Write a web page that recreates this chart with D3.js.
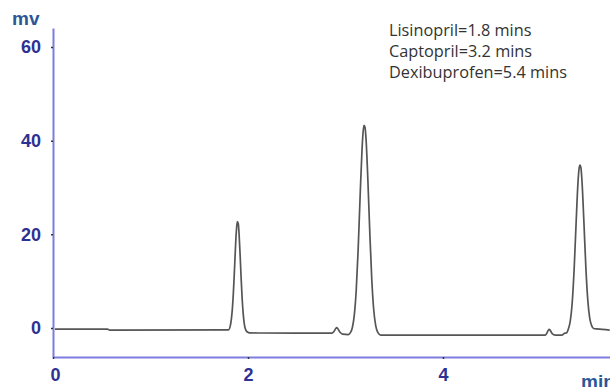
<!DOCTYPE html>
<html>
<head>
<meta charset="utf-8">
<script src="https://cdn.jsdelivr.net/npm/d3@7/dist/d3.min.js"></script>
<style>
html,body{margin:0;padding:0;background:#fff;}
svg{display:block;}
</style>
</head>
<body>
<svg id="chart" width="610" height="387"></svg>
<script>
// ---- data ----
const timeMin = [0.02,0.56,0.58,1.80,1.82,1.83,1.84,1.85,1.86,1.87,1.88,1.89,1.90,1.91,1.92,1.93,1.94,1.95,1.96,1.97,1.99,2.02,
  2.50,2.86,2.88,2.90,2.91,2.92,2.94,2.97,3.03,
  3.05,3.07,3.09,3.11,3.13,3.15,3.17,3.18,3.19,3.20,3.21,3.23,3.25,3.27,3.29,3.31,3.33,3.36,
  4.50,5.05,5.06,5.08,5.09,5.10,5.12,5.15,5.22,5.24,5.27,
  5.285,5.305,5.325,5.345,5.365,5.385,5.395,5.405,5.415,5.425,5.445,5.465,5.485,5.505,5.525,5.545,5.58,5.71];
const signalMv = [-0.25,-0.25,-0.45,-0.4,0.6,2.0,4.2,7.5,11.8,16.5,20.5,22.7,22.3,19.5,15.2,10.5,6.3,3.3,1.2,0.0,-0.8,-1.05,
  -1.1,-1.1,-0.8,-0.1,0.1,-0.1,-0.8,-1.3,-1.4,
  -1.0,0.06,2.7,8.0,16.8,28.1,38.3,41.7,43.3,42.9,40.6,31.4,20.0,10.2,3.8,0.5,-0.9,-1.5,
  -1.5,-1.5,-1.3,-0.5,-0.3,-0.5,-1.2,-1.5,-1.5,-1.2,-1.0,
  -0.25,1.4,5.3,12.5,22.2,31.2,33.9,34.8,34.2,31.6,22.8,13.1,6.0,2.1,0.5,-0.1,-0.2,-0.45];
const xTicks = [0,2,4];
const yTicks = [0,20,40,60];
const legendLines = ["Lisinopril=1.8 mins","Captopril=3.2 mins","Dexibuprofen=5.4 mins"];
const yUnit = "mv";
const xUnit = "min";

// ---- layout ----
const svg = d3.select("#chart");
const x0 = 53, x1 = 610, yTop = 28, yBot = 357;
const x = d3.scaleLinear().domain([0, 5.713]).range([x0, x1]);
const y = d3.scaleLinear().domain([-6.19, 64.06]).range([yBot, yTop]);

const axisColor = "#7d7de0";
const labelColor = "#2e3192";
const unitColor = "#2b5797";
const fmt = d3.format("d");

svg.append("defs").append("clipPath").attr("id","clip")
  .append("rect").attr("x", x0).attr("y", 0).attr("width", x1 - x0).attr("height", yBot);

// trace
const pts = timeMin.map((t,i)=>[t, signalMv[i]]);
svg.append("path")
  .datum(pts)
  .attr("clip-path","url(#clip)")
  .attr("fill","none")
  .attr("stroke","#555")
  .attr("stroke-width",1.7)
  .attr("stroke-linejoin","round")
  .attr("d", d3.line().x(d=>x(d[0])).y(d=>y(d[1])).curve(d3.curveMonotoneX));

// y axis
const gy = svg.append("g").attr("transform",`translate(${x0},0)`)
  .call(d3.axisLeft(y).tickValues(yTicks).tickFormat(fmt).tickSize(2).tickPadding(10).tickSizeOuter(0));
gy.select(".domain").attr("stroke", axisColor).attr("stroke-width", 2);
gy.selectAll(".tick line").attr("stroke","#333").attr("stroke-width",1.5);
gy.selectAll(".tick text").attr("fill", labelColor)
  .style("font-family","'Liberation Sans', Arial, sans-serif")
  .style("font-weight","bold").style("font-size","18px");

// x axis
const gx = svg.append("g").attr("transform",`translate(0,${yBot})`)
  .call(d3.axisBottom(x).tickValues(xTicks).tickFormat(fmt).tickSize(2).tickPadding(9).tickSizeOuter(0));
gx.select(".domain").attr("stroke", axisColor).attr("stroke-width", 2);
gx.selectAll(".tick line").attr("stroke","#333").attr("stroke-width",1.5);
gx.selectAll(".tick text").attr("fill", labelColor)
  .style("font-family","'Liberation Sans', Arial, sans-serif")
  .style("font-weight","bold").style("font-size","18px");
gx.selectAll(".tick").filter(d=>d===0).select("text").attr("dx", 2);

// units
svg.append("text").attr("x", 12).attr("y", 25).text(yUnit)
  .attr("fill", unitColor)
  .style("font-family","'Liberation Sans', Arial, sans-serif")
  .style("font-weight","bold").style("font-size","19px");
svg.append("text").attr("x", 581).attr("y", 388).text(xUnit)
  .attr("fill", unitColor)
  .style("font-family","'Liberation Sans', Arial, sans-serif")
  .style("font-weight","bold").style("font-size","19px");

// annotation
svg.append("g").selectAll("text").data(legendLines).join("text")
  .attr("x", 389).attr("y", (d,i)=>36 + i*21)
  .text(d=>d)
  .attr("fill","#333")
  .style("font-family","'Open Sans', Lato, sans-serif")
  .style("font-size","16.3px");
</script>
</body>
</html>
